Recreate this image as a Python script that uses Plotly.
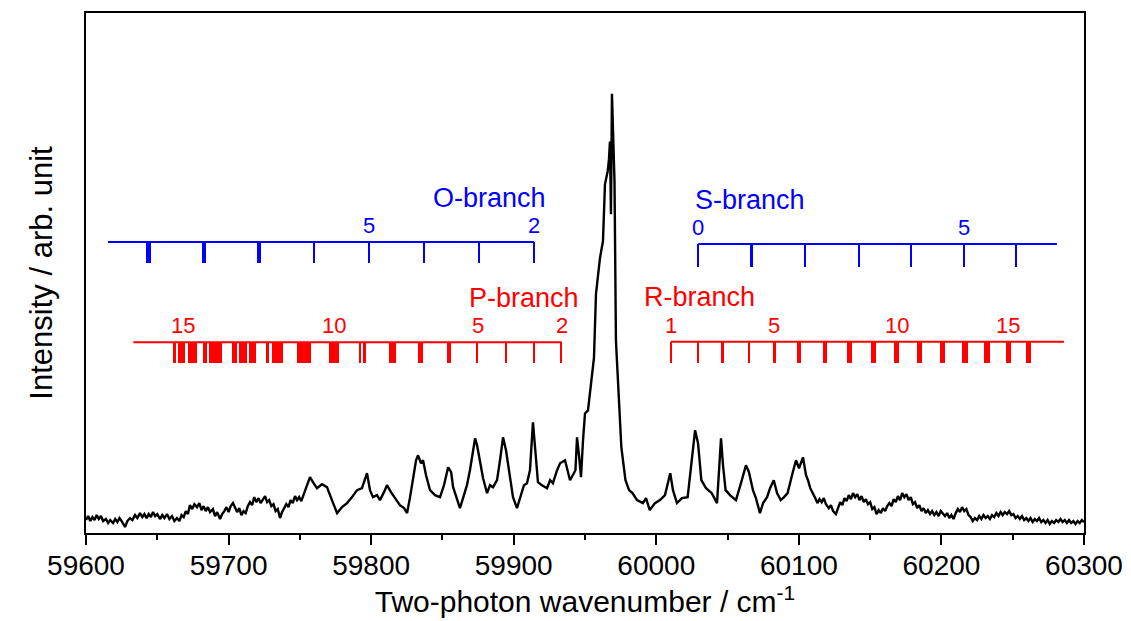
import plotly.graph_objects as go

# ---------------- spectrum ----------------
wavenumber = [
    59600.0, 59601.5, 59603.0, 59604.5, 59606.0, 59607.5, 59609.0, 59610.5, 59612.0, 59614.0,
    59615.5, 59617.0, 59619.0, 59620.5, 59622.0, 59623.5, 59625.0, 59626.5, 59627.4, 59629.0,
    59630.9, 59632.5, 59634.4, 59636.0, 59637.9, 59639.5, 59641.0, 59642.5, 59644.0, 59645.5,
    59647.0, 59648.5, 59650.0, 59651.9, 59653.5, 59655.0, 59656.8, 59658.5, 59660.3, 59662.0,
    59663.8, 59665.5, 59667.0, 59668.5, 59670.0, 59671.5, 59672.9, 59674.5, 59676.0, 59677.9,
    59679.5, 59681.0, 59682.5, 59684.0, 59685.5, 59687.0, 59689.0, 59690.5, 59692.0, 59694.0,
    59695.5, 59697.0, 59698.5, 59700.0, 59701.5, 59703.1, 59704.5, 59706.0, 59707.5, 59709.0,
    59710.5, 59712.0, 59713.5, 59715.0, 59716.5, 59718.0, 59719.5, 59721.0, 59722.5, 59724.0,
    59725.6, 59727.0, 59728.5, 59730.0, 59731.5, 59733.0, 59734.5, 59736.1, 59737.5, 59739.0,
    59740.5, 59742.0, 59743.5, 59745.0, 59746.6, 59748.0, 59749.5, 59751.0, 59752.5,
    59754.3, 59757.1, 59759.2, 59762.0, 59765.5, 59769.0, 59772.5, 59776.1, 59779.6, 59783.1,
    59786.6, 59790.1, 59793.6, 59797.1, 59799.2, 59801.3, 59804.1, 59806.2, 59809.0, 59811.1,
    59813.9, 59816.7, 59820.2, 59823.1, 59825.2, 59827.3, 59829.4, 59831.5, 59832.9, 59835.0,
    59836.4, 59838.5, 59841.3, 59844.8, 59848.3, 59851.1, 59854.0, 59856.1, 59857.5, 59860.3,
    59862.3, 59865.1, 59867.2, 59869.3, 59871.5, 59872.9, 59874.3, 59876.4, 59878.5, 59881.3,
    59883.4, 59885.5, 59888.3, 59890.4, 59892.5, 59894.6, 59897.4, 59899.5, 59902.3, 59905.1,
    59907.2, 59909.3, 59911.4, 59913.5, 59914.9, 59917.0, 59919.8, 59923.4, 59925.5, 59927.5,
    59930.4, 59932.5, 59936.0, 59939.5, 59943.3, 59944.4, 59945.8, 59947.2, 59948.6, 59950.0,
    59952.1, 59954.2, 59956.3, 59957.7, 59959.2, 59960.5, 59962.6, 59964.0, 59965.9, 59966.8,
    59967.5, 59968.2, 59968.9, 59969.6, 59970.7, 59971.7, 59973.6, 59975.5, 59978.4, 59980.9,
    59983.3, 59986.5, 59990.6, 59992.8, 59995.4, 59999.1, 60002.6, 60006.1, 60009.8, 60011.7,
    60014.5, 60018.0, 60022.0, 60024.4, 60027.2, 60029.3, 60031.6, 60034.9, 60038.9, 60042.6,
    60044.0, 60045.4, 60046.8, 60048.6, 60051.7, 60055.9, 60059.4, 60062.9, 60065.0, 60067.8,
    60069.9, 60072.7, 60074.9, 60077.7, 60079.8, 60082.4, 60084.7, 60087.3, 60089.6, 60092.1,
    60095.2, 60098.0, 60100.1, 60102.9, 60105.0,
    60106.4, 60108.0, 60109.9, 60111.5, 60113.0, 60114.5, 60116.0, 60117.5, 60119.0, 60121.0,
    60122.5, 60124.0, 60126.0, 60127.5, 60129.0, 60130.5, 60132.0, 60133.5, 60135.0, 60136.5,
    60138.0, 60139.5, 60141.0, 60142.5, 60144.0, 60145.5, 60147.0, 60148.5, 60150.0, 60151.5,
    60153.0, 60154.5, 60156.0, 60157.5, 60159.0, 60160.5, 60162.0, 60163.5, 60165.0, 60166.5,
    60168.0, 60169.5, 60171.0, 60172.5, 60174.0, 60175.5, 60177.0, 60178.5, 60180.0, 60181.5,
    60183.0, 60184.5, 60186.0, 60187.5, 60189.0, 60190.5, 60192.0, 60193.5, 60195.0, 60196.5,
    60198.0, 60199.5, 60201.0, 60202.5, 60204.0, 60205.5, 60207.0, 60208.5, 60210.0, 60211.5,
    60213.0, 60214.5, 60216.0, 60217.5, 60219.0, 60220.5, 60222.0, 60223.5, 60225.0, 60226.5,
    60228.0, 60229.5, 60231.0, 60232.5, 60234.0, 60235.5, 60237.0, 60238.5, 60240.0, 60241.5,
    60243.0, 60244.5, 60246.0, 60247.5, 60249.0, 60250.5, 60252.0, 60253.5, 60255.0, 60256.5,
    60258.0, 60259.5, 60261.0, 60262.5, 60264.0, 60265.5, 60267.0, 60268.5, 60270.0, 60271.5,
    60273.0, 60274.5, 60276.0, 60277.5, 60279.0, 60280.5, 60282.0, 60283.5, 60285.0, 60286.5,
    60288.0, 60289.5, 60291.0, 60292.5, 60294.0, 60295.5, 60297.0, 60298.5, 60300.0,
]
intensity = [
    0.13, 0.17, 0.12, 0.16, 0.13, 0.18, 0.14, 0.17, 0.12, 0.14,
    0.10, 0.13, 0.10, 0.14, 0.11, 0.15, 0.12, 0.09, 0.06, 0.12,
    0.15, 0.13, 0.18, 0.15, 0.20, 0.16, 0.19, 0.15, 0.19, 0.16,
    0.21, 0.17, 0.19, 0.14, 0.18, 0.15, 0.19, 0.14, 0.17, 0.12,
    0.15, 0.12, 0.18, 0.16, 0.22, 0.19, 0.28, 0.24, 0.29, 0.26,
    0.30, 0.23, 0.27, 0.22, 0.26, 0.21, 0.24, 0.17, 0.21, 0.14,
    0.19, 0.22, 0.26, 0.21, 0.27, 0.30, 0.25, 0.21, 0.25, 0.18,
    0.22, 0.20, 0.27, 0.31, 0.28, 0.36, 0.31, 0.35, 0.30, 0.34,
    0.37, 0.31, 0.33, 0.27, 0.29, 0.22, 0.24, 0.15, 0.21, 0.25,
    0.29, 0.26, 0.33, 0.30, 0.37, 0.33, 0.36, 0.32, 0.38,
    0.43, 0.56, 0.51, 0.45, 0.49, 0.46, 0.33, 0.20, 0.26, 0.30,
    0.36, 0.43, 0.45, 0.60, 0.43, 0.36, 0.38, 0.33, 0.41, 0.48,
    0.41, 0.35, 0.28, 0.25, 0.20, 0.36, 0.56, 0.73, 0.78, 0.70,
    0.73, 0.58, 0.43, 0.38, 0.36, 0.48, 0.66, 0.61, 0.46, 0.33,
    0.25, 0.38, 0.48, 0.63, 0.83, 0.95, 0.88, 0.73, 0.55, 0.40,
    0.48, 0.46, 0.53, 0.73, 0.96, 0.83, 0.53, 0.36, 0.25, 0.38,
    0.48, 0.50, 0.63, 1.11, 0.83, 0.51, 0.48, 0.45, 0.53, 0.50,
    0.63, 0.70, 0.73, 0.53, 0.63, 0.96, 0.78, 0.56, 0.93, 1.20,
    1.23, 1.53, 1.76, 2.40, 2.63, 2.76, 2.93, 3.50, 3.63, 3.75,
    3.93, 3.20, 4.41, 4.08, 3.53, 1.93, 1.36, 0.86, 0.53, 0.43,
    0.40, 0.33, 0.30, 0.35, 0.23, 0.30, 0.33, 0.38, 0.60, 0.43,
    0.30, 0.35, 0.36, 0.68, 1.03, 0.90, 0.53, 0.45, 0.40, 0.30,
    0.58, 0.95, 0.68, 0.43, 0.38, 0.33, 0.50, 0.68, 0.61, 0.43,
    0.35, 0.20, 0.30, 0.36, 0.45, 0.53, 0.40, 0.33, 0.36, 0.40,
    0.58, 0.73, 0.65, 0.76, 0.58,
    0.53, 0.45, 0.40, 0.35, 0.30, 0.34, 0.31, 0.35, 0.29, 0.25,
    0.28, 0.22, 0.19, 0.26, 0.31, 0.28, 0.35, 0.32, 0.38, 0.34,
    0.40, 0.36, 0.39, 0.33, 0.37, 0.31, 0.34, 0.29, 0.31, 0.24,
    0.26, 0.19, 0.23, 0.20, 0.25, 0.22, 0.27, 0.30, 0.27, 0.34,
    0.31, 0.37, 0.33, 0.40, 0.36, 0.39, 0.33, 0.36, 0.29, 0.31,
    0.25, 0.28, 0.22, 0.25, 0.20, 0.23, 0.19, 0.22, 0.18, 0.21,
    0.17, 0.22, 0.19, 0.17, 0.20, 0.15, 0.18, 0.14, 0.20, 0.24,
    0.21, 0.26, 0.22, 0.24, 0.18, 0.16, 0.12, 0.15, 0.13, 0.17,
    0.14, 0.18, 0.15, 0.17, 0.14, 0.18, 0.16, 0.20, 0.17, 0.21,
    0.18, 0.21, 0.19, 0.22, 0.18, 0.19, 0.15, 0.17, 0.14, 0.17,
    0.13, 0.15, 0.12, 0.15, 0.11, 0.14, 0.12, 0.15, 0.11, 0.13,
    0.10, 0.13, 0.09, 0.12, 0.10, 0.13, 0.11, 0.14, 0.11, 0.13,
    0.10, 0.13, 0.10, 0.12, 0.09, 0.12, 0.10, 0.13, 0.11,
]

# ---------------- rotational line assignments ----------------
# O-branch (J = 2..9)
o_J = [2, 3, 4, 5, 6, 7, 8, 9]
o_pos = [59914.2, 59875.7, 59837.1, 59798.5, 59759.9, 59721.3, 59682.8, 59643.5]
o_wid = [1.05, 1.05, 1.05, 1.3, 1.7, 2.2, 2.8, 3.5]
o_span = [59615.4, 59914.2]
o_labeled = [5, 2]

# S-branch (J = 0..6)
s_J = [0, 1, 2, 3, 4, 5, 6]
s_pos = [60029.5, 60066.9, 60104.3, 60142.2, 60178.6, 60215.6, 60252.1]
s_wid = [1.05, 1.2, 1.4, 1.4, 1.4, 1.4, 1.4]
s_span = [60029.5, 60281.0]
s_labeled = [0, 5]

# R-branch (J = 1..16)
r_J = [1, 2, 3, 4, 5, 6, 7, 8, 9, 10, 11, 12, 13, 14, 15, 16]
r_pos = [60010.1, 60029.5, 60046.6, 60065.0, 60082.8, 60100.3, 60118.3, 60135.4,
         60152.2, 60168.6, 60184.5, 60200.9, 60216.5, 60231.7, 60246.9, 60260.9]
r_wid = [0.9, 1.05, 1.3, 1.3, 2.2, 2.7, 2.2, 3.2, 3.2, 3.7, 3.7, 3.7, 4.1, 4.1, 3.9, 3.2]
r_span = [60010.1, 60286.0]
r_labeled = [1, 5, 10, 15]

# P-branch (J = 2..15), components as [start, end] ranges
p_J = [2, 3, 4, 5, 6, 7, 8, 9, 9, 10, 11, 12, 12, 13, 13, 13, 14, 14, 15, 15, 15]
p_start = [59933.1, 59913.7, 59894.1, 59874.2, 59853.0, 59832.9, 59812.5, 59791.5, 59794.3,
           59770.4, 59748.0, 59726.3, 59730.5, 59702.4, 59707.3, 59714.3, 59682.1, 59686.3,
           59661.0, 59664.5, 59671.5]
p_end = [59934.2, 59914.7, 59895.1, 59875.2, 59856.0, 59836.4, 59817.4, 59792.9, 59796.4,
         59777.5, 59757.8, 59728.4, 59738.2, 59705.9, 59712.9, 59719.2, 59684.9, 59695.4,
         59663.1, 59669.4, 59677.9]
p_span = [59633.2, 59933.7]
p_labeled = [2, 5, 10, 15]

BLUE = "#0000FF"
RED = "#FF0000"
FONT = "Liberation Sans, Arial, sans-serif"

# vertical layout of the stick diagrams (intensity units)
O_Y, O_H = 2.92, 0.21
S_Y, S_H = 2.90, 0.23
P_Y, P_H = 1.915, 0.21
R_Y, R_H = 1.92, 0.215

fig = go.Figure()

fig.add_trace(go.Scatter(x=wavenumber, y=intensity, mode="lines",
                         line=dict(color="black", width=2.4), showlegend=False,
                         hoverinfo="skip"))


def add_branch(pos, wid, span, y0, h, color):
    fig.add_trace(go.Bar(x=pos, y=[h] * len(pos), base=[y0 - h] * len(pos), width=wid,
                         marker=dict(color=color, line=dict(width=0)),
                         showlegend=False, hoverinfo="skip"))
    fig.add_trace(go.Scatter(x=span, y=[y0, y0], mode="lines",
                             line=dict(color=color, width=2), showlegend=False,
                             hoverinfo="skip"))


add_branch(o_pos, o_wid, o_span, O_Y, O_H, BLUE)
add_branch(s_pos, s_wid, s_span, S_Y, S_H, BLUE)
add_branch(r_pos, r_wid, r_span, R_Y, R_H, RED)
p_center = [(a + b) / 2 for a, b in zip(p_start, p_end)]
p_width = [b - a for a, b in zip(p_start, p_end)]
add_branch(p_center, p_width, p_span, P_Y, P_H, RED)

ann = []
num_font = dict(family=FONT, size=22)
lab_font = dict(family=FONT, size=27)


def add_numbers(J, pos, labeled, y, color):
    for j in labeled:
        ps = [p for jj, p in zip(J, pos) if jj == j]
        x = sum(ps) / len(ps)
        ann.append(dict(x=x, y=y, xref="x", yref="y", text=str(j), showarrow=False,
                        yanchor="bottom", font=dict(num_font, color=color)))


add_numbers(o_J, o_pos, o_labeled, O_Y + 0.02, BLUE)
add_numbers(s_J, s_pos, s_labeled, S_Y + 0.02, BLUE)
add_numbers(r_J, r_pos, r_labeled, R_Y + 0.02, RED)
add_numbers(p_J, p_center, p_labeled, P_Y + 0.02, RED)

ann += [
    dict(x=59883.0, y=3.36, text="O-branch", font=dict(lab_font, color=BLUE)),
    dict(x=60066.0, y=3.34, text="S-branch", font=dict(lab_font, color=BLUE)),
    dict(x=59907.0, y=2.36, text="P-branch", font=dict(lab_font, color=RED)),
    dict(x=60030.0, y=2.37, text="R-branch", font=dict(lab_font, color=RED)),
]
for a in ann[-4:]:
    a.update(xref="x", yref="y", showarrow=False)

# the page body adds an 8 px offset; the figure is sized to fill the rest
fig.update_layout(
    width=1123, height=613,
    margin=dict(l=78, r=47, t=3, b=88),
    paper_bgcolor="white", plot_bgcolor="white",
    barmode="overlay", bargap=0,
    annotations=ann,
    font=dict(family=FONT, color="black"),
)
fig.update_xaxes(
    range=[59600, 60300], dtick=100, tick0=59600, tickformat="d",
    showline=True, linecolor="black", linewidth=2, mirror=True,
    ticks="outside", ticklen=10, tickwidth=2, tickcolor="black",
    minor=dict(dtick=50, ticklen=5, tickwidth=2, ticks="outside", tickcolor="black"),
    showgrid=False, zeroline=False,
    tickfont=dict(family=FONT, size=28), ticklabelstandoff=-4,
    title=dict(text="Two-photon wavenumber / cm<sup>-1</sup>",
               font=dict(family=FONT, size=30), standoff=8),
)
fig.update_yaxes(
    range=[0, 5.22], showticklabels=False, ticks="",
    showline=True, linecolor="black", linewidth=2, mirror=True,
    showgrid=False, zeroline=False,
    title=dict(text="Intensity / arb. unit", font=dict(family=FONT, size=31), standoff=22),
)

fig.write_html("out.html")
